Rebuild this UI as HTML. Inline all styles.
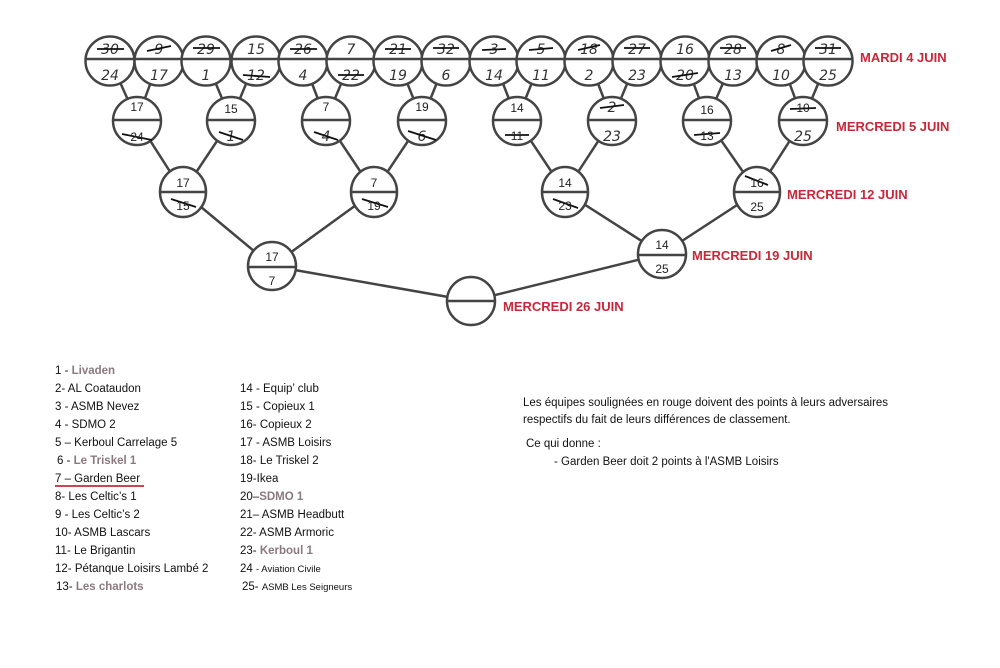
<!DOCTYPE html>
<html><head><meta charset="utf-8"><style>
html,body{margin:0;padding:0;background:#fff;}
svg{display:block}
.h{font-family:"DejaVu Sans","Liberation Sans",sans-serif;font-style:italic;font-size:14px;fill:#333;text-anchor:middle}
.n{font-family:"Liberation Sans",sans-serif;font-size:12px;fill:#222;text-anchor:middle}
.r{font-family:"Liberation Sans",sans-serif;font-weight:bold;font-size:13px;fill:#c8283a}
.t{font-family:"Liberation Sans",sans-serif;font-size:11.5px;fill:#111;white-space:pre}
.g{fill:#8a7a80;font-weight:bold}
.s{stroke:#111;stroke-width:1.8}
</style></head><body>
<svg width="1000" height="668" viewBox="0 0 1000 668" xmlns="http://www.w3.org/2000/svg">
<g stroke="#444" stroke-width="2.5" fill="none">
<line x1="110" y1="60" x2="137" y2="120"/><line x1="159" y1="60" x2="137" y2="120"/>
<line x1="206" y1="60" x2="231" y2="120"/><line x1="256" y1="60" x2="231" y2="120"/>
<line x1="303" y1="60" x2="326" y2="120"/><line x1="351" y1="60" x2="326" y2="120"/>
<line x1="398" y1="60" x2="422" y2="120"/><line x1="446" y1="60" x2="422" y2="120"/>
<line x1="494" y1="60" x2="517" y2="120"/><line x1="541" y1="60" x2="517" y2="120"/>
<line x1="589" y1="60" x2="612" y2="120"/><line x1="637" y1="60" x2="612" y2="120"/>
<line x1="685" y1="60" x2="707" y2="120"/><line x1="733" y1="60" x2="707" y2="120"/>
<line x1="781" y1="60" x2="803" y2="120"/><line x1="828" y1="60" x2="803" y2="120"/>
<line x1="137" y1="120" x2="183" y2="192"/><line x1="231" y1="120" x2="183" y2="192"/>
<line x1="326" y1="120" x2="374" y2="192"/><line x1="422" y1="120" x2="374" y2="192"/>
<line x1="517" y1="120" x2="565" y2="192"/><line x1="612" y1="120" x2="565" y2="192"/>
<line x1="707" y1="120" x2="757" y2="192"/><line x1="803" y1="120" x2="757" y2="192"/>
<line x1="183" y1="192" x2="272" y2="266"/><line x1="374" y1="192" x2="272" y2="266"/>
<line x1="565" y1="192" x2="662" y2="254"/><line x1="757" y1="192" x2="662" y2="254"/>
<line x1="272" y1="266" x2="471" y2="301"/><line x1="662" y1="254" x2="471" y2="301"/>
</g>
<g stroke="#444" stroke-width="2.5" fill="#fff">
<circle cx="110" cy="61" r="24.5"/><circle cx="159" cy="61" r="24.5"/><circle cx="206" cy="61" r="24.5"/><circle cx="256" cy="61" r="24.5"/>
<circle cx="303" cy="61" r="24.5"/><circle cx="351" cy="61" r="24.5"/><circle cx="398" cy="61" r="24.5"/><circle cx="446" cy="61" r="24.5"/>
<circle cx="494" cy="61" r="24.5"/><circle cx="541" cy="61" r="24.5"/><circle cx="589" cy="61" r="24.5"/><circle cx="637" cy="61" r="24.5"/>
<circle cx="685" cy="61" r="24.5"/><circle cx="733" cy="61" r="24.5"/><circle cx="781" cy="61" r="24.5"/><circle cx="828" cy="61" r="24.5"/>
<circle cx="137" cy="121" r="24"/><circle cx="231" cy="121" r="24"/><circle cx="326" cy="121" r="24"/><circle cx="422" cy="121" r="24"/>
<circle cx="517" cy="121" r="24"/><circle cx="612" cy="121" r="24"/><circle cx="707" cy="121" r="24"/><circle cx="803" cy="121" r="24"/>
<ellipse cx="183" cy="192" rx="23" ry="25"/><ellipse cx="374" cy="192" rx="23" ry="25"/><ellipse cx="565" cy="192" rx="23" ry="25"/><ellipse cx="757" cy="192" rx="23" ry="25"/>
<ellipse cx="272" cy="266" rx="24" ry="24"/><ellipse cx="662" cy="254" rx="24" ry="24"/>
<ellipse cx="471" cy="301" rx="24" ry="24"/>
<line x1="86" y1="59" x2="852" y2="59"/>
<line x1="113" y1="120" x2="161" y2="120"/><line x1="207" y1="120" x2="255" y2="120"/><line x1="302" y1="120" x2="350" y2="120"/><line x1="398" y1="120" x2="446" y2="120"/>
<line x1="493" y1="120" x2="541" y2="120"/><line x1="588" y1="120" x2="636" y2="120"/><line x1="683" y1="120" x2="731" y2="120"/><line x1="779" y1="120" x2="827" y2="120"/>
<line x1="160" y1="192" x2="206" y2="192"/><line x1="351" y1="192" x2="397" y2="192"/><line x1="542" y1="192" x2="588" y2="192"/><line x1="734" y1="192" x2="780" y2="192"/>
<line x1="248" y1="267" x2="296" y2="267"/><line x1="638" y1="255" x2="686" y2="255"/><line x1="447" y1="301" x2="495" y2="301"/>
</g>
<g class="h">
<text x="110" y="54">30</text><text x="110" y="80">24</text>
<text x="159" y="54">9</text><text x="159" y="80">17</text>
<text x="206" y="54">29</text><text x="206" y="80">1</text>
<text x="256" y="54">15</text><text x="256" y="80">12</text>
<text x="303" y="54">26</text><text x="303" y="80">4</text>
<text x="351" y="54">7</text><text x="351" y="80">22</text>
<text x="398" y="54">21</text><text x="398" y="80">19</text>
<text x="446" y="54">32</text><text x="446" y="80">6</text>
<text x="494" y="54">3</text><text x="494" y="80">14</text>
<text x="541" y="54">5</text><text x="541" y="80">11</text>
<text x="589" y="54">18</text><text x="589" y="80">2</text>
<text x="637" y="54">27</text><text x="637" y="80">23</text>
<text x="685" y="54">16</text><text x="685" y="80">20</text>
<text x="733" y="54">28</text><text x="733" y="80">13</text>
<text x="781" y="54">8</text><text x="781" y="80">10</text>
<text x="828" y="54">31</text><text x="828" y="80">25</text>
<text x="231" y="141">1</text><text x="326" y="141">4</text><text x="422" y="141">6</text>
<text x="612" y="112">2</text><text x="612" y="141">23</text><text x="803" y="141">25</text>
</g>
<g class="s">
<line x1="97" y1="49" x2="124" y2="49"/><line x1="147" y1="51" x2="171" y2="46"/><line x1="193" y1="48" x2="220" y2="48"/>
<line x1="243" y1="75" x2="270" y2="77"/><line x1="290" y1="49" x2="317" y2="49"/><line x1="338" y1="75" x2="364" y2="75"/>
<line x1="385" y1="49" x2="411" y2="49"/><line x1="433" y1="48" x2="459" y2="48"/><line x1="482" y1="50" x2="506" y2="49"/>
<line x1="529" y1="50" x2="553" y2="48"/><line x1="578" y1="50" x2="600" y2="45"/><line x1="624" y1="48" x2="650" y2="48"/>
<line x1="672" y1="77" x2="698" y2="73"/><line x1="720" y1="48" x2="746" y2="48"/><line x1="771" y1="51" x2="791" y2="45"/><line x1="815" y1="48" x2="841" y2="48"/>
<line x1="122" y1="134" x2="152" y2="140"/><line x1="219" y1="132" x2="243" y2="140"/><line x1="314" y1="132" x2="338" y2="140"/><line x1="408" y1="131" x2="436" y2="140"/>
<line x1="505" y1="135" x2="529" y2="135"/><line x1="600" y1="108" x2="624" y2="105"/><line x1="694" y1="135" x2="720" y2="133"/><line x1="790" y1="109" x2="816" y2="108"/>
<line x1="171" y1="199" x2="196" y2="207"/><line x1="362" y1="199" x2="388" y2="207"/><line x1="553" y1="199" x2="578" y2="208"/><line x1="745" y1="176" x2="768" y2="185"/>
</g>
<g class="n">
<text x="137" y="111">17</text><text x="137" y="141">24</text>
<text x="231" y="113">15</text><text x="326" y="111">7</text><text x="422" y="111">19</text>
<text x="517" y="112">14</text><text x="517" y="140">11</text>
<text x="707" y="114">16</text><text x="707" y="140">13</text><text x="803" y="112">10</text>
<text x="183" y="187">17</text><text x="183" y="210">15</text>
<text x="374" y="187">7</text><text x="374" y="210">19</text>
<text x="565" y="187">14</text><text x="565" y="210">23</text>
<text x="757" y="187">16</text><text x="757" y="211">25</text>
<text x="272" y="261">17</text><text x="272" y="285">7</text>
<text x="662" y="249">14</text><text x="662" y="273">25</text>
</g>
<g class="r">
<text x="860" y="62">MARDI 4 JUIN</text>
<text x="836" y="131">MERCREDI 5 JUIN</text>
<text x="787" y="199">MERCREDI 12 JUIN</text>
<text x="692" y="260">MERCREDI 19 JUIN</text>
<text x="503" y="311">MERCREDI 26 JUIN</text>
</g>
<g class="t">
<text x="55" y="374">1 -  <tspan class="g">Livaden</tspan></text>
<text x="55" y="392">2-   AL Coataudon</text>
<text x="55" y="410">3 -  ASMB Nevez</text>
<text x="55" y="428">4 -  SDMO 2</text>
<text x="55" y="446">5 – Kerboul Carrelage 5</text>
<text x="57" y="464">6 -  <tspan class="g">Le Triskel 1</tspan></text>
<text x="55" y="482">7 – Garden Beer</text>
<text x="55" y="500">8-   Les Celtic’s 1</text>
<text x="55" y="518">9 -  Les Celtic’s 2</text>
<text x="55" y="536">10- ASMB Lascars</text>
<text x="55" y="554">11- Le Brigantin</text>
<text x="55" y="572">12- Pétanque Loisirs Lambé 2</text>
<text x="56" y="590">13- <tspan class="g">Les charlots</tspan></text>
<text x="240" y="392">14 - Equip’ club</text>
<text x="240" y="410">15 - Copieux 1</text>
<text x="240" y="428">16- Copieux 2</text>
<text x="240" y="446">17 - ASMB Loisirs</text>
<text x="240" y="464">18- Le Triskel 2</text>
<text x="240" y="482">19-Ikea</text>
<text x="240" y="500">20–<tspan class="g">SDMO 1</tspan></text>
<text x="240" y="518">21– ASMB Headbutt</text>
<text x="240" y="536">22- ASMB Armoric</text>
<text x="240" y="554">23- <tspan class="g">Kerboul 1</tspan></text>
<text x="240" y="572">24 <tspan style="font-size:9.5px">- Aviation Civile</tspan></text>
<text x="242" y="590">25- <tspan style="font-size:9.5px">ASMB Les Seigneurs</tspan></text>
<text x="523" y="406">Les équipes soulignées en rouge doivent des points à leurs adversaires</text>
<text x="523" y="423">respectifs du fait de leurs différences de classement.</text>
<text x="526" y="447">Ce qui donne :</text>
<text x="554" y="465">- Garden Beer doit 2 points à l'ASMB Loisirs</text>
</g>
<line x1="55" y1="486" x2="144" y2="486" stroke="#c8283a" stroke-width="1.8"/>
</svg>
</body></html>
